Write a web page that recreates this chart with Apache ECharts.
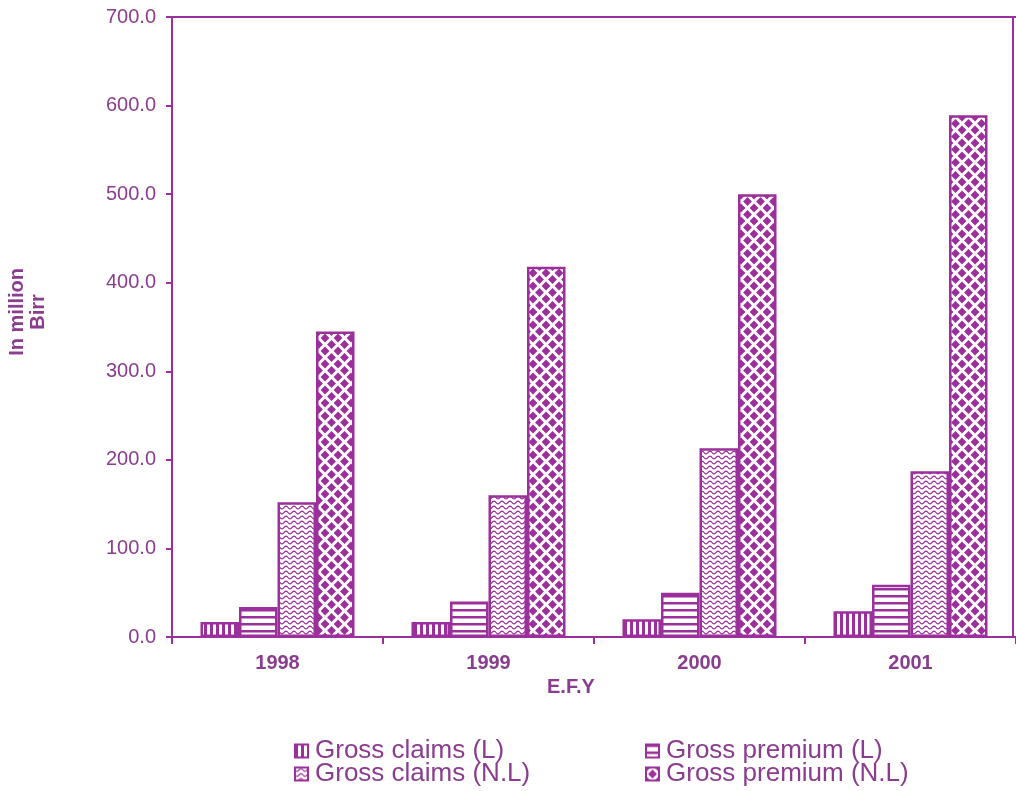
<!DOCTYPE html>
<html><head><meta charset="utf-8">
<script src="https://cdn.jsdelivr.net/npm/echarts@6/dist/echarts.min.js"></script>
<style>html,body{margin:0;padding:0;background:#fff}#c{width:1016px;height:791px}</style>
</head><body><div id="c"></div>
<script>
const categories = ['1998', '1999', '2000', '2001'];
const grossClaimsL = [17, 17, 20, 29];
const grossPremiumL = [34, 40, 50, 59];
const grossClaimsNL = [152, 160, 213, 187];
const grossPremiumNL = [345, 418, 500, 589];
const yTicks = [0, 100, 200, 300, 400, 500, 600, 700];

const P = '#9b2f9b';
const T = '#8a3d8e';

function tile(w, h, draw) {
  const c = document.createElement('canvas');
  c.width = w; c.height = h;
  const g = c.getContext('2d');
  g.fillStyle = '#fff'; g.fillRect(0, 0, w, h);
  g.fillStyle = P; g.strokeStyle = P;
  draw(g);
  return { image: c, repeat: 'repeat' };
}
const patV = tile(6, 6, g => { g.fillRect(0, 0, 3, 6); });
const patH = tile(6, 7, g => { g.fillRect(0, 0, 6, 2.5); });
const patW = tile(8, 5, g => {
  g.lineWidth = 1.2; g.beginPath();
  for (let x = 0; x <= 8; x += 0.5) {
    const y = 2.5 + 1.3 * Math.sin(x / 8 * 2 * Math.PI);
    if (x === 0) g.moveTo(x, y); else g.lineTo(x, y);
  }
  g.stroke();
});
const patD = tile(13, 13, g => {
  const d = (cx, cy, r) => { g.beginPath(); g.moveTo(cx, cy - r); g.lineTo(cx + r, cy); g.lineTo(cx, cy + r); g.lineTo(cx - r, cy); g.closePath(); g.fill(); };
  const r = 4.4;
  d(6.5, 6.5, r); d(0, 0, r); d(13, 0, r); d(0, 13, r); d(13, 13, r);
});

function ser(name, data, pat) {
  return {
    name, type: 'bar', data,
    barGap: '0%', barCategoryGap: '27%',
    itemStyle: { color: pat, borderColor: P, borderWidth: 2.5 },
    emphasis: { disabled: true }
  };
}

const FF = 'Liberation Sans, Arial, sans-serif';
const legendBase = {
  top: 733, height: 120, width: 330, orient: 'vertical', itemGap: -3,
  itemWidth: 13, itemHeight: 13, icon: 'rect',
  textStyle: { color: T, fontSize: 26, lineHeight: 23, padding: [0, 0, 0, 2] },
  selectedMode: false
};
const chart = echarts.init(document.getElementById('c'), null, { renderer: 'canvas' });
chart.setOption({
  animation: false,
  backgroundColor: '#fff',
  textStyle: { fontFamily: FF },
  grid: { left: 172, top: 17, width: 852, height: 620, containLabel: false },
  xAxis: [{
    type: 'category', data: categories,
    axisLine: { lineStyle: { color: P, width: 2 } },
    axisTick: { show: true, length: 7, lineStyle: { color: P, width: 2 } },
    axisLabel: { color: T, fontSize: 20, fontWeight: 'bold', margin: 16 }
  }, {
    type: 'category', data: categories, position: 'top',
    axisLine: { show: true, lineStyle: { color: P, width: 2 } },
    axisTick: { show: false }, axisLabel: { show: false }
  }],
  yAxis: {
    type: 'value', min: 0, max: 700, interval: 100,
    axisLine: { show: true, lineStyle: { color: P, width: 2 } },
    axisTick: { show: true, length: 6, lineStyle: { color: P, width: 2 } },
    splitLine: { show: false },
    axisLabel: { color: T, fontSize: 20, margin: 16,
      formatter: v => yTicks.includes(v) ? v.toFixed(1) : '' }
  },
  legend: [
    Object.assign({}, legendBase, { left: 289, data: ['Gross claims (L)', 'Gross claims (N.L)'] }),
    Object.assign({}, legendBase, { left: 640, data: ['Gross premium (L)', 'Gross premium (N.L)'] })
  ],
  graphic: [
    { type: 'text', left: 7, top: 268, rotation: Math.PI / 2,
      style: { text: 'In million\nBirr', fill: T, font: 'bold 20px ' + FF, textAlign: 'center', lineHeight: 21 } },
    { type: 'text', left: 547, top: 677,
      style: { text: 'E.F.Y', fill: T, font: 'bold 20px ' + FF } },
    { type: 'line', shape: { x1: 1013, y1: 17, x2: 1013, y2: 637 }, style: { stroke: P, lineWidth: 2 } }
  ],
  series: [
    ser('Gross claims (L)', grossClaimsL, patV),
    ser('Gross premium (L)', grossPremiumL, patH),
    ser('Gross claims (N.L)', grossClaimsNL, patW),
    ser('Gross premium (N.L)', grossPremiumNL, patD)
  ]
});
</script></body></html>
